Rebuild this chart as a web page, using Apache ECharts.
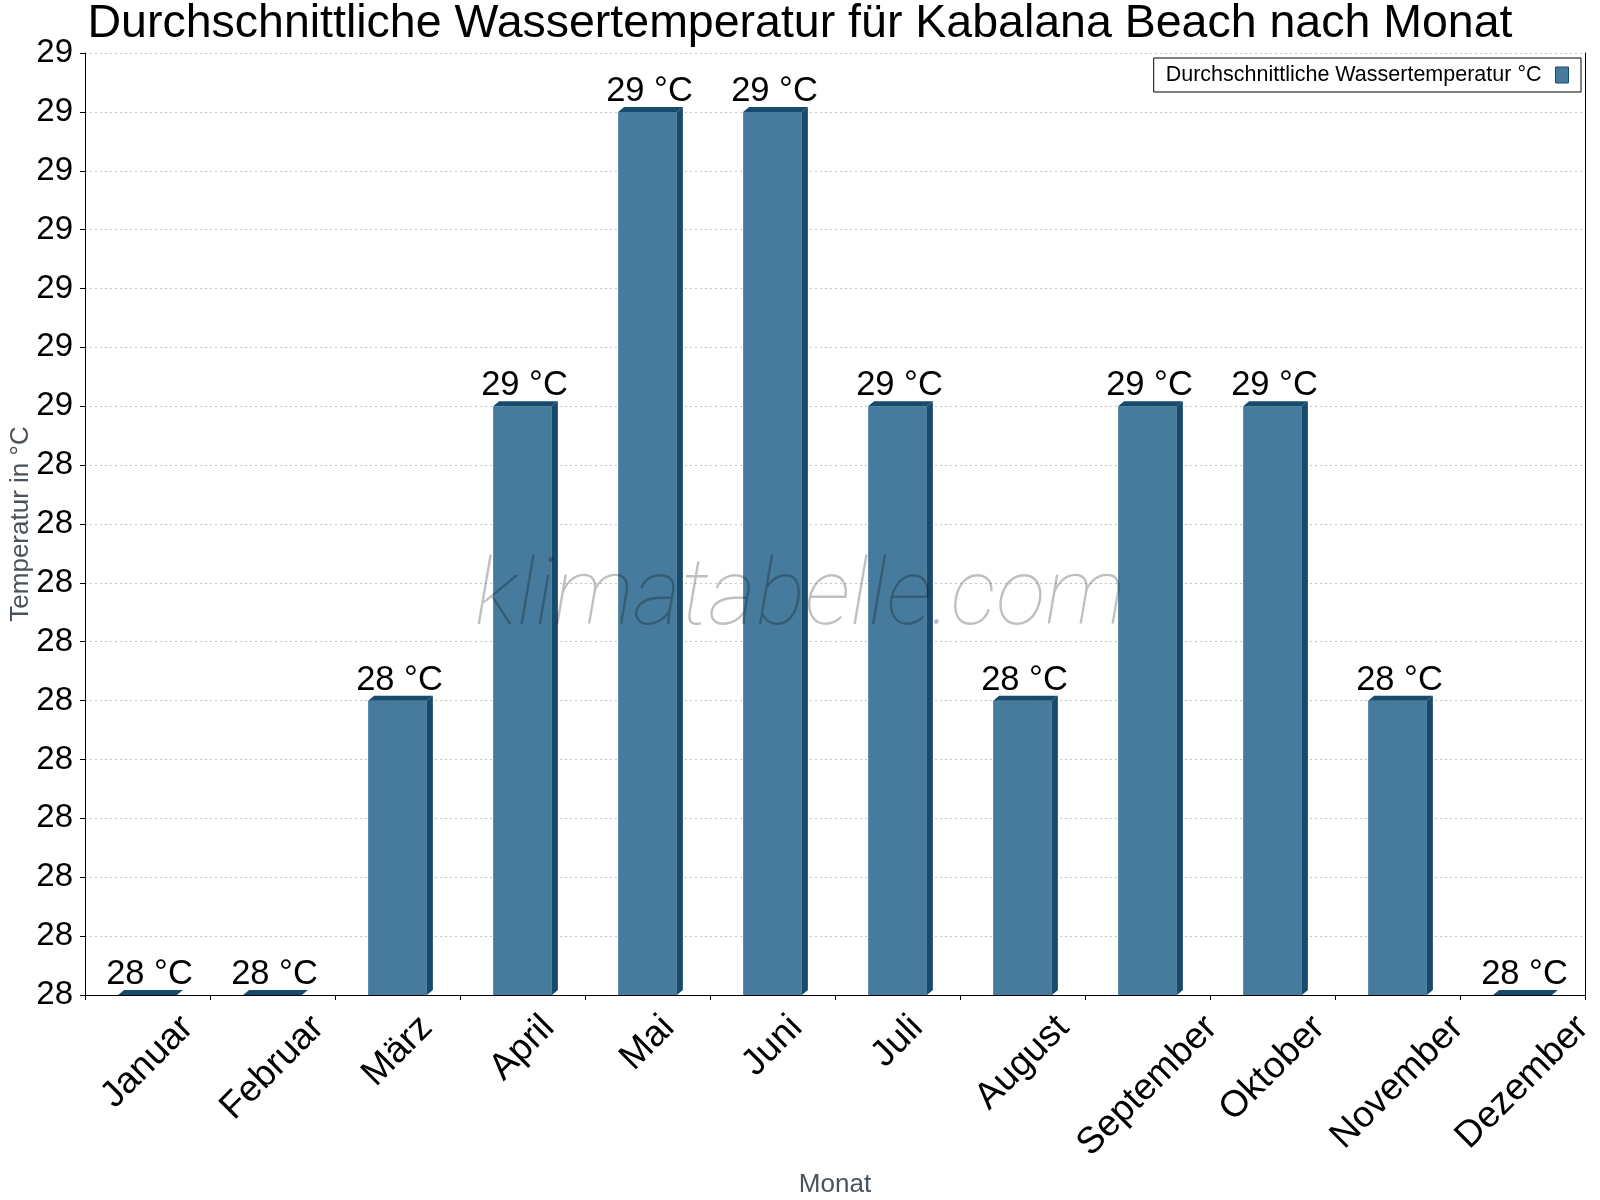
<!DOCTYPE html>
<html>
<head>
    <meta charset="UTF-8">
    <title>Wassertemperatur Kabalana Beach</title>
    <script src="https://cdn.jsdelivr.net/npm/echarts@6/dist/echarts.min.js"></script>
    <style>
        html, body { margin: 0; padding: 0; background: #fff; }
        #chart { width: 1600px; height: 1200px; }
    </style>
</head>
<body>
<div id="chart"></div>
<script>
    // Monate und Durchschnittswerte (°C)
    var months = ['Januar', 'Februar', 'März', 'April', 'Mai', 'Juni',
        'Juli', 'August', 'September', 'Oktober', 'November', 'Dezember'];
    var waterTemp = [28.0, 28.0, 28.25, 28.5, 28.75, 28.75, 28.5, 28.25, 28.5, 28.5, 28.25, 28.0];
    var seriesName = 'Durchschnittliche Wassertemperatur °C';

    // y-Achse: Grenzen und Schrittweite
    var yMin = 28.0;
    var yMax = 28.8;
    var yStep = 0.05;

    var FONT = '"Liberation Sans", Arial, sans-serif';
    var front = '#467b9d';
    var dark = '#174a6b';
    var labelSize = 37;

    // Textbreite der Monatsnamen messen (für die Position der gedrehten Beschriftung)
    var ctx = document.createElement('canvas').getContext('2d');
    ctx.font = labelSize + 'px ' + FONT;

    var chart = echarts.init(document.getElementById('chart'), null, {renderer: 'canvas'});

    function renderBar(params, api) {
        var i = api.value(0), v = api.value(1);
        var top = api.coord([i, v]);
        var base = api.coord([i, yMin]);
        var w = api.size([1, 0])[0] * 0.47;
        var xl = top[0] - w / 2, xr = top[0] + w / 2;
        var yt = top[1], yb = base[1];
        var dx = 6, dy = 5;
        return {
            type: 'group',
            children: [
                {type: 'rect', shape: {x: xl, y: yt, width: w, height: yb - yt}, style: {fill: front}},
                {type: 'polygon', shape: {points: [[xr, yt], [xr + dx, yt - dy], [xr + dx, yb - dy], [xr, yb]]}, style: {fill: dark}},
                {type: 'polygon', shape: {points: [[xl, yt], [xl + dx, yt - dy], [xr + dx, yt - dy], [xr, yt]]}, style: {fill: dark}},
                {type: 'text', x: top[0] + 2, y: yt - dy + 2, style: {
                    text: Math.round(v) + ' °C', font: '34.5px ' + FONT, fill: '#000',
                    align: 'center', verticalAlign: 'bottom'
                }}
            ]
        };
    }

    function renderMonth(params, api) {
        var i = api.value(0);
        var p = api.coord([i, yMin]);
        var name = months[i];
        var L = ctx.measureText(name).width;
        return {
            type: 'text',
            x: p[0],
            y: p[1] + 27 + 0.354 * L,
            rotation: Math.PI / 4,
            style: {
                text: name, font: labelSize + 'px ' + FONT, fill: '#000',
                align: 'center', verticalAlign: 'middle'
            }
        };
    }

    var option = {
        animation: false,
        backgroundColor: '#fff',
        textStyle: {fontFamily: FONT},
        title: {
            text: 'Durchschnittliche Wassertemperatur für Kabalana Beach nach Monat',
            left: 'center',
            top: 1,
            padding: 0,
            textStyle: {fontSize: 46.5, fontWeight: 'normal', color: '#000', fontFamily: FONT}
        },
        legend: {
            data: [{name: seriesName, icon: 'rect', itemStyle: {color: front, borderColor: dark, borderWidth: 1}}],
            right: 19,
            top: 58,
            align: 'right',
            orient: 'vertical',
            padding: [6, 12, 6, 12],
            itemWidth: 13,
            itemHeight: 16,
            borderColor: '#000',
            borderWidth: 1,
            backgroundColor: '#fff',
            selectedMode: false,
            textStyle: {fontSize: 21.5, color: '#000', padding: [0, 9, 0, 0]}
        },
        grid: {left: 85, right: 15, top: 53, bottom: 205, containLabel: false, outerBoundsMode: 'none'},
        xAxis: {
            type: 'category',
            data: months,
            name: 'Monat',
            nameLocation: 'middle',
            nameGap: 177,
            nameMoveOverlap: false,
            nameTextStyle: {fontSize: 26, color: '#4a525c'},
            axisLine: {lineStyle: {color: '#000', width: 1}},
            axisTick: {show: true, length: 5, lineStyle: {color: '#000'}},
            axisLabel: {show: false},
            splitLine: {show: false}
        },
        yAxis: [{
            type: 'value',
            min: yMin,
            max: yMax,
            interval: yStep,
            name: 'Temperatur in °C',
            nameLocation: 'middle',
            nameGap: 51,
            nameMoveOverlap: false,
            nameTextStyle: {fontSize: 26, color: '#4a525c'},
            axisLine: {show: true, lineStyle: {color: '#000', width: 1}},
            axisTick: {show: true, length: 5, lineStyle: {color: '#000'}},
            axisLabel: {
                fontSize: 33, color: '#000', margin: 12,
                formatter: function (v) { return String(Math.round(v + 1e-9)); }
            },
            splitLine: {show: true, lineStyle: {color: '#c4c4c4', type: [2, 3], width: 1}}
        }, {
            type: 'value',
            min: yMin,
            max: yMax,
            position: 'right',
            axisLine: {show: true, lineStyle: {color: '#000', width: 1}},
            axisTick: {show: false},
            axisLabel: {show: false},
            splitLine: {show: false}
        }],
        graphic: [{
            type: 'text',
            left: 'center',
            top: 555,
            z: 100,
            silent: true,
            style: {
                text: 'klimatabelle.com',
                font: 'italic 100 92px Roboto, "Liberation Sans", sans-serif',
                fill: 'rgba(0,0,0,0.25)'
            }
        }],
        series: [{
            name: seriesName,
            type: 'custom',
            clip: false,
            itemStyle: {color: front},
            renderItem: renderBar,
            data: waterTemp.map(function (v, i) { return [i, v]; })
        }, {
            name: 'monate',
            type: 'custom',
            clip: false,
            silent: true,
            renderItem: renderMonth,
            data: months.map(function (m, i) { return [i]; })
        }]
    };

    chart.setOption(option);
</script>
</body>
</html>
